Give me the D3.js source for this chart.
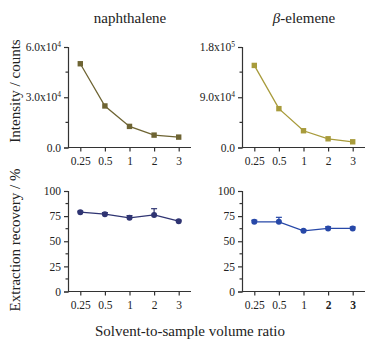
<!DOCTYPE html>
<html>
<head>
<meta charset="utf-8">
<script src="https://cdn.jsdelivr.net/npm/d3@7"></script>
<style>
    body { margin: 0; background: white; }
    svg text { font-family: "Liberation Serif", "DejaVu Serif", serif; fill: #222; }
    .axis path, .axis line { stroke: #333; stroke-width: 1.2; }
</style>
</head>
<body>
<div id="chart"></div>
<script>

// x categories (solvent-to-sample volume ratio)
let ratios = ["0.25", "0.5", "1", "2", "3"];

// intensity (counts)
let naphIntensity = [50000, 24800, 12600, 7400, 6200];
let elemIntensity = [147000, 69600, 30000, 15600, 10200];

// extraction recovery (%) and error (+)
let naphRecovery = [78.9, 76.9, 73.3, 76.2, 70.0];
let naphRecoveryErr = [1.0, 1.6, 2.2, 6.2, 1.0];
let elemRecovery = [69.3, 69.3, 60.4, 62.8, 62.8];
let elemRecoveryErr = [1.6, 4.5, 1.0, 1.6, 1.4];

let intensityTicksNaph = [0, 30000, 60000];
let intensityTicksElem = [0, 90000, 180000];
let recoveryTicks = [0, 25, 50, 75, 100];

let width = 380, height = 350;
let serif = '"Liberation Serif", "DejaVu Serif", serif';

let svg = d3.select("#chart").append("svg")
    .attr("width", width)
    .attr("height", height)
    .attr("font-family", serif);

function sciLabel(sel, v) {
    if (v === 0) { sel.text("0.0"); return; }
    let exp = Math.floor(Math.log10(v));
    let mant = (v / Math.pow(10, exp)).toFixed(1);
    sel.text(null);
    sel.append("tspan").text(mant + "x10");
    sel.append("tspan").attr("dy", "-4.5").style("font-size", "7.5px").text(exp);
}

function drawPanel(opt) {
    let g = svg.append("g");

    let x = d3.scalePoint()
        .domain(ratios)
        .range([opt.left, opt.left + opt.w])
        .padding(0.5);

    let y = d3.scaleLinear()
        .domain([0, opt.max])
        .range([opt.top + opt.h, opt.top]);

    // y axis with major ticks
    let yAxis = d3.axisLeft(y)
        .tickValues(opt.ticks)
        .tickSizeOuter(0)
        .tickSize(4)
        .tickPadding(3);

    let ya = g.append("g")
        .attr("class", "axis")
        .attr("transform", `translate(${opt.left},0)`)
        .call(yAxis)
        .attr("font-family", serif)
        .attr("font-size", 11.5);

    if (opt.sci) {
        ya.selectAll(".tick text").each(function(d) { sciLabel(d3.select(this), d); });
    }

    // minor ticks
    let minors = [];
    for (let i = 0; i < opt.ticks.length - 1; i++) {
        minors.push((opt.ticks[i] + opt.ticks[i + 1]) / 2);
    }
    g.append("g").selectAll("line")
        .data(minors)
        .enter().append("line")
        .attr("x1", opt.left)
        .attr("x2", opt.left - 2.5)
        .attr("y1", d => y(d))
        .attr("y2", d => y(d))
        .attr("stroke", "#333")
        .attr("stroke-width", 1.2);

    // x axis
    let xAxis = d3.axisBottom(x)
        .tickSizeOuter(0)
        .tickSize(4)
        .tickPadding(5);

    let xa = g.append("g")
        .attr("class", "axis")
        .attr("transform", `translate(0,${opt.top + opt.h})`)
        .call(xAxis)
        .attr("font-family", serif)
        .attr("font-size", 11.5);
    xa.select(".domain").attr("d", `M${opt.left},0H${opt.left + opt.w}`);
    if (opt.boldLast) {
        xa.selectAll(".tick text").style("font-weight", d => (d === "2" || d === "3") ? "bold" : null);
    }

    // line
    let line = d3.line()
        .x((d, i) => x(ratios[i]))
        .y(d => y(d));

    g.append("path")
        .datum(opt.values)
        .attr("fill", "none")
        .attr("stroke", opt.color)
        .attr("stroke-width", 1.3)
        .attr("d", line);

    // error bars (upper)
    if (opt.err) {
        let eb = g.append("g").selectAll("g")
            .data(opt.values)
            .enter().append("g");
        eb.append("line")
            .attr("x1", (d, i) => x(ratios[i]))
            .attr("x2", (d, i) => x(ratios[i]))
            .attr("y1", d => y(d))
            .attr("y2", (d, i) => y(d + opt.err[i]))
            .attr("stroke", opt.color)
            .attr("stroke-width", 1.2);
        eb.append("line")
            .attr("x1", (d, i) => x(ratios[i]) - 3)
            .attr("x2", (d, i) => x(ratios[i]) + 3)
            .attr("y1", (d, i) => y(d + opt.err[i]))
            .attr("y2", (d, i) => y(d + opt.err[i]))
            .attr("stroke", opt.color)
            .attr("stroke-width", 1.2);
    }

    // markers
    if (opt.square) {
        g.append("g").selectAll("rect")
            .data(opt.values)
            .enter().append("rect")
            .attr("x", (d, i) => x(ratios[i]) - 2.7)
            .attr("y", d => y(d) - 2.7)
            .attr("width", 5.4)
            .attr("height", 5.4)
            .attr("fill", opt.color);
    } else {
        g.append("g").selectAll("circle")
            .data(opt.values)
            .enter().append("circle")
            .attr("cx", (d, i) => x(ratios[i]))
            .attr("cy", d => y(d))
            .attr("r", 3)
            .attr("fill", opt.color);
    }
}

let colLeft = 68, colRight = 242, panelW = 123;
let rowTop = 47, rowBottom = 191, panelH = 100.5;

drawPanel({left: colLeft, top: rowTop, w: panelW, h: panelH, max: 60000, ticks: intensityTicksNaph,
    values: naphIntensity, color: "#6e6433", square: true, sci: true});
drawPanel({left: colRight, top: rowTop, w: panelW, h: panelH, max: 180000, ticks: intensityTicksElem,
    values: elemIntensity, color: "#a89b3b", square: true, sci: true});
drawPanel({left: colLeft, top: rowBottom, w: panelW, h: panelH, max: 100, ticks: recoveryTicks,
    values: naphRecovery, err: naphRecoveryErr, color: "#2f3472", square: false});
drawPanel({left: colRight, top: rowBottom, w: panelW, h: panelH, max: 100, ticks: recoveryTicks,
    values: elemRecovery, err: elemRecoveryErr, color: "#2748a8", square: false, boldLast: true});

// titles
svg.append("text")
    .attr("x", 130).attr("y", 23)
    .attr("text-anchor", "middle")
    .style("font-size", "15px")
    .text("naphthalene");

let t2 = svg.append("text")
    .attr("x", 304).attr("y", 23)
    .attr("text-anchor", "middle")
    .style("font-size", "15px");
t2.append("tspan").style("font-style", "italic").text("β");
t2.append("tspan").text("-elemene");

// axis labels
svg.append("text")
    .attr("transform", "translate(20,91) rotate(-90)")
    .attr("text-anchor", "middle")
    .style("font-size", "15px")
    .text("Intensity / counts");

svg.append("text")
    .attr("transform", "translate(20,240) rotate(-90)")
    .attr("text-anchor", "middle")
    .style("font-size", "15px")
    .text("Extraction recovery / %");

svg.append("text")
    .attr("x", 190).attr("y", 336)
    .attr("text-anchor", "middle")
    .style("font-size", "15px")
    .text("Solvent-to-sample volume ratio");

</script>
</body>
</html>
